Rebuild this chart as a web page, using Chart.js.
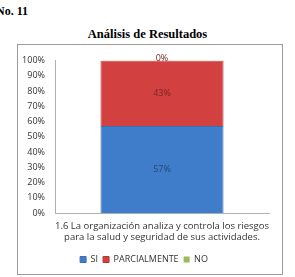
<!DOCTYPE html>
<html lang="es">
<head>
  <meta charset="UTF-8" />
  <title>Análisis de Resultados</title>
  <script src="https://cdn.jsdelivr.net/npm/chart.js"></script>
  <style>
    body {
      margin: 0;
      width: 295px;
      height: 277px;
      background: #fff;
      position: relative;
      overflow: hidden;
      font-family: 'Liberation Serif', 'DejaVu Serif', serif;
    }
    .num {
      position: absolute;
      left: -4px;
      top: 4px;
      font-size: 12px;
      font-weight: bold;
    }
    h1 {
      position: absolute;
      left: 0;
      width: 295px;
      top: 27px;
      margin: 0;
      text-align: center;
      font-size: 12.5px;
      font-weight: bold;
    }
    .box {
      position: absolute;
      left: 17px;
      top: 44px;
      width: 264px;
      height: 229px;
      border: 1px solid #9a9a9a;
    }
  </style>
</head>
<body>
  <div class="num">No. 11</div>
  <h1>Análisis de Resultados</h1>
  <div class="box"><canvas id="chart"></canvas></div>
  <script>
    const categories = [["1.6 La organización analiza y controla los riesgos", "para la salud y seguridad de sus actividades."]];
    const siValues = [57];
    const parcialValues = [43];
    const noValues = [0];
    const seriesNames = ["SI", "PARCIALMENTE", "NO"];

    const labelPlugin = {
      id: 'barLabels',
      afterDatasetsDraw(chart) {
        const ctx = chart.ctx;
        ctx.save();
        ctx.font = '9px "Open Sans", sans-serif';
        ctx.textAlign = 'center';
        ctx.textBaseline = 'middle';
        chart.data.datasets.forEach(function (ds, i) {
          const meta = chart.getDatasetMeta(i);
          meta.data.forEach(function (bar, j) {
            const v = ds.data[j];
            let y = (bar.y + bar.base) / 2;
            if (v === 0) y = bar.y - 2;
            ctx.fillStyle = ds.labelColor;
            ctx.fillText(v + '%', bar.x, y);
          });
        });
        ctx.restore();
      }
    };

    new Chart(document.getElementById('chart'), {
      type: 'bar',
      data: {
        labels: categories,
        datasets: [
          { label: seriesNames[0], data: siValues, backgroundColor: '#3f7cc9', borderColor: '#3a6fb0', borderWidth: 1, labelColor: '#24497a' },
          { label: seriesNames[1], data: parcialValues, backgroundColor: '#d2413f', borderColor: '#b23634', borderWidth: 1, labelColor: '#7a2422' },
          { label: seriesNames[2], data: noValues, backgroundColor: '#9bbb59', borderColor: '#9bbb59', borderWidth: 0, labelColor: '#7a2422' }
        ]
      },
      options: {
        responsive: true,
        maintainAspectRatio: false,
        animation: false,
        layout: { padding: { left: 0, right: 12, top: 8, bottom: 0 } },
        datasets: { bar: { categoryPercentage: 1, barPercentage: 0.575 } },
        plugins: {
          legend: {
            position: 'bottom',
            labels: {
              boxWidth: 6,
              boxHeight: 6,
              padding: 5,
              color: '#333',
              font: { family: '"Open Sans", sans-serif', size: 9 }
            }
          },
          tooltip: { enabled: false }
        },
        scales: {
          x: {
            stacked: true,
            grid: { display: false, drawTicks: false },
            border: { color: '#b0b0b0' },
            ticks: { color: '#333', padding: 7, font: { family: '"Open Sans", sans-serif', size: 9.5 }, maxRotation: 0 }
          },
          y: {
            stacked: true,
            min: 0,
            max: 100,
            grid: { display: false, drawTicks: false },
            border: { color: '#b0b0b0' },
            afterFit: function (scale) { scale.width = 37; },
            ticks: {
              stepSize: 10,
              color: '#333',
              padding: 10,
              font: { family: '"Open Sans", sans-serif', size: 9 },
              callback: function (v) { return v + '%'; }
            }
          }
        }
      },
      plugins: [labelPlugin]
    });
  </script>
</body>
</html>
